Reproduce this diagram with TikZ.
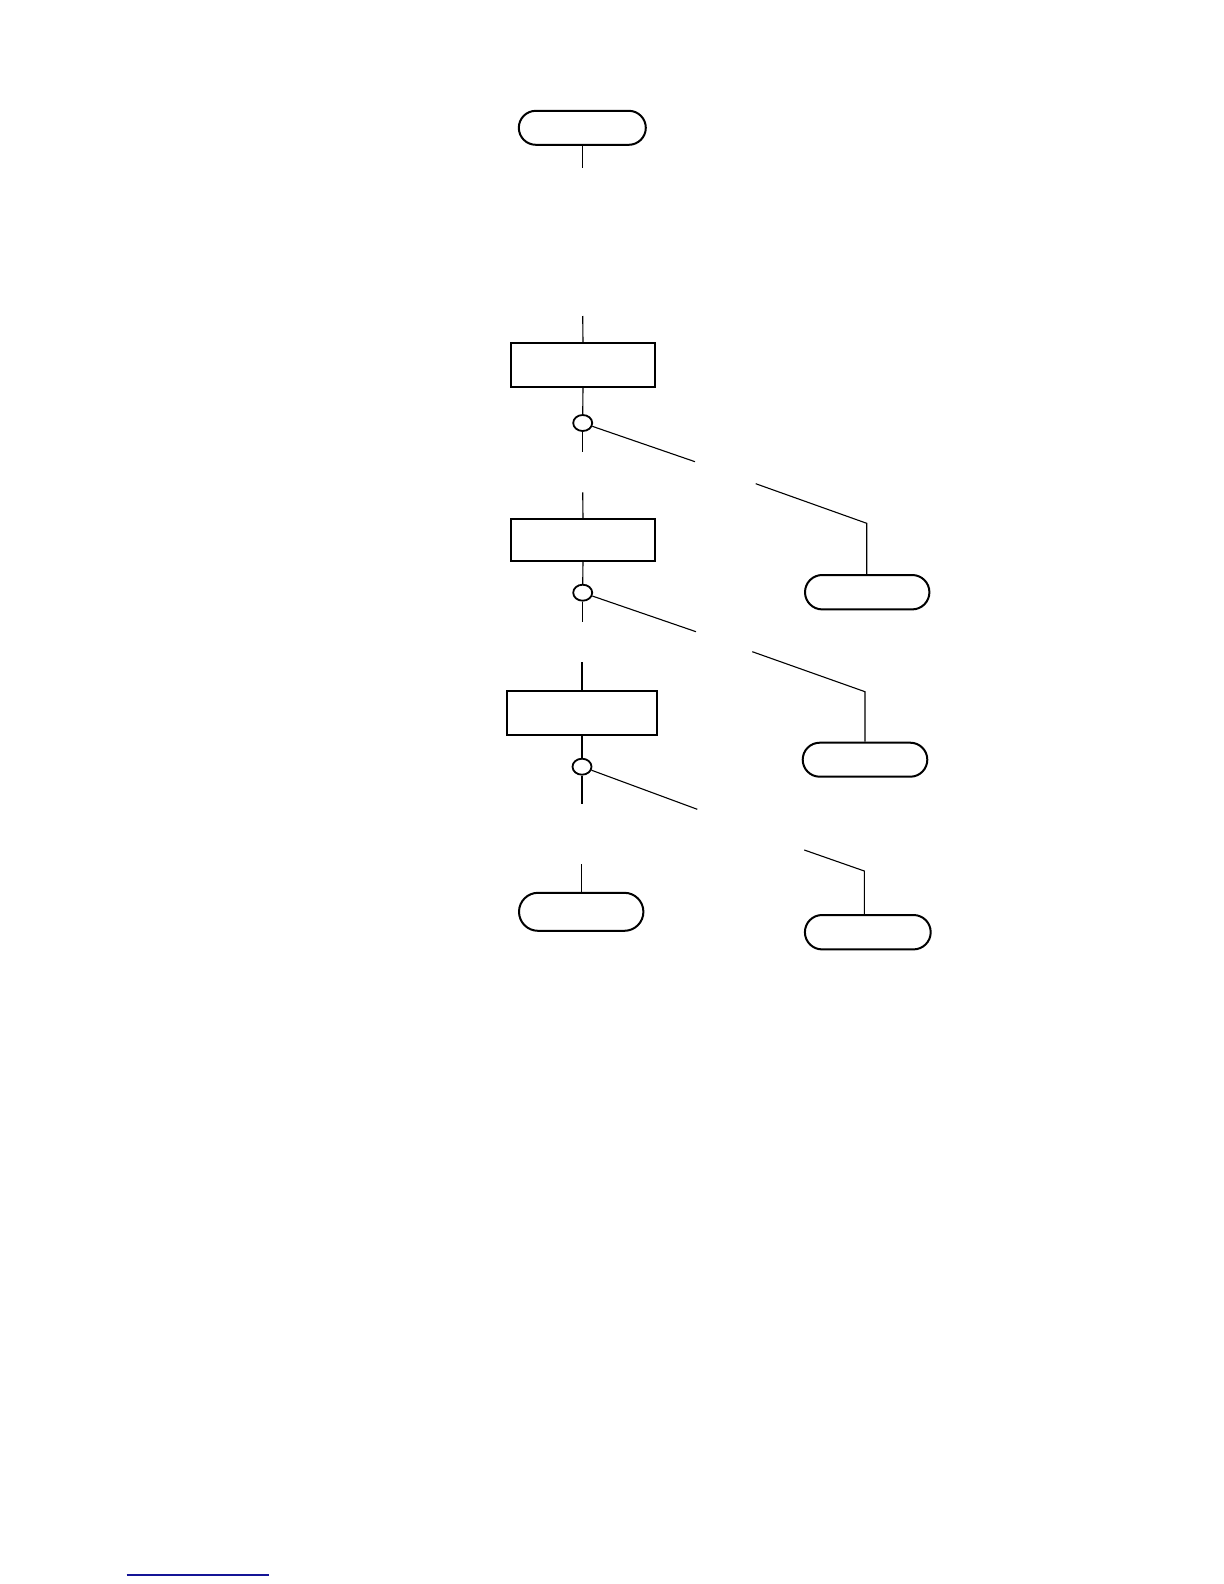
\documentclass[tikz,border=0pt]{standalone}
\usetikzlibrary{shapes.misc,shapes.geometric}
\definecolor{linkblue}{RGB}{20,20,150}
\begin{document}
\begin{tikzpicture}[x=0.5pt,y=-0.5pt,
  term/.style={rounded rectangle,draw,line width=1pt,inner sep=0pt},
  procbox/.style={rectangle,draw,line width=1.1pt,inner sep=0pt,minimum width=72.3pt,minimum height=22pt},
  junc/.style={ellipse,draw,line width=0.9pt,inner sep=0pt,minimum width=9.5pt,minimum height=8pt},
  conn/.style={line width=0.55pt}]
\useasboundingbox (0,0) rectangle (1224,1584);
% nodes
\node[term,minimum width=63.5pt,minimum height=17pt] (start) at (582.3,127.8) {};
\node[procbox] (b1) at (583,365) {};
\node[junc] (c1) at (582.7,423) {};
\node[procbox,minimum height=20.9pt] (b2) at (583,539.8) {};
\node[junc] (c2) at (582.7,592.7) {};
\node[procbox,minimum width=75.3pt,minimum height=22.2pt] (b3) at (582,712.8) {};
\node[junc] (c3) at (582,766.7) {};
\node[term,minimum width=62.2pt,minimum height=19pt] (stop) at (581.2,911.8) {};
\node[term,minimum width=62.2pt,minimum height=17.2pt] (r1) at (867.2,592.2) {};
\node[term,minimum width=62.3pt,minimum height=17pt] (r2) at (865,759.7) {};
\node[term,minimum width=62.9pt,minimum height=17.2pt] (r3) at (867.8,932.2) {};
% free ends
\coordinate (s0) at (582.3,168.3);
\coordinate (t1) at (582.7,316);
\coordinate (u1) at (582.7,451.7);
\coordinate (d1a) at (695,461.7);
\coordinate (d1b) at (755.7,483.7);
\coordinate (d1c) at (866.7,523.3);
\coordinate (t2) at (582.7,492.3);
\coordinate (u2) at (582.7,622.3);
\coordinate (d2a) at (696,631.7);
\coordinate (d2b) at (752.3,651.7);
\coordinate (d2c) at (865,691.7);
\coordinate (t3) at (582,662.3);
\coordinate (u3) at (582,804.3);
\coordinate (d3a) at (697.3,809.3);
\coordinate (d3b) at (804.3,850);
\coordinate (d3c) at (864.3,871);
\coordinate (t4) at (581.2,864);
% connectors
\draw[conn] (start.south) -- (s0);
\draw[conn] (t1) -- (b1.north);
\draw[conn] (b1.south) -- (c1.north);
\draw[conn] (c1.south) -- (u1);
\draw[conn] (c1) -- (d1a);
\draw[conn] (d1b) -- (d1c) -- (d1c |- r1.north);
\draw[conn] (t2) -- (b2.north);
\draw[conn] (b2.south) -- (c2.north);
\draw[conn] (c2.south) -- (u2);
\draw[conn] (c2) -- (d2a);
\draw[conn] (d2b) -- (d2c) -- (d2c |- r2.north);
\draw[conn] (t3) -- (b3.north);
\draw[conn] (b3.south) -- (c3.north);
\draw[conn] (c3.south) -- (u3);
\draw[conn] (c3) -- (d3a);
\draw[conn] (d3b) -- (d3c) -- (d3c |- r3.north);
\draw[conn] (t4) -- (stop.north);
% blue underline
\coordinate (bl1) at (126.7,1575.3);
\coordinate (bl2) at (269,1575.3);
\draw[linkblue,line width=1pt] (bl1) -- (bl2);
\end{tikzpicture}
\end{document}
